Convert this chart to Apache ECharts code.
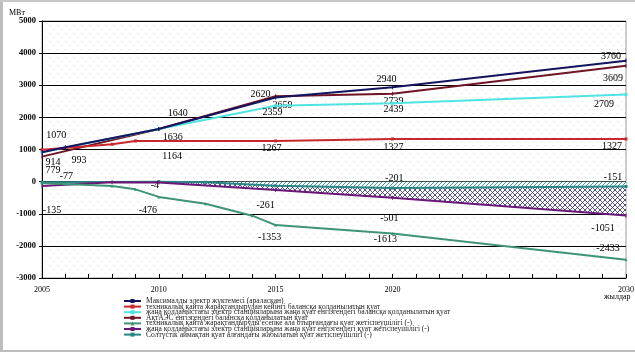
<!DOCTYPE html>
<html><head><meta charset="utf-8">
<script src="https://cdn.jsdelivr.net/npm/echarts@6/dist/echarts.min.js"></script>
<style>html,body{margin:0;padding:0;background:#fff}#c{width:635px;height:358px}</style>
</head><body><div id="c"></div><script>
// ---- data ----
const yearTickLabels = [2005, 2010, 2015, 2020, 2030];
const yTicks = [-3000, -2000, -1000, 0, 1000, 2000, 3000, 4000, 5000];
const seriesNames = [
  'Максималды электр жүктемесі (араласқан)',
  'техникалық қайта жарақтандырудан кейінгі балансқа қолданылатын қуат',
  'жаңа қолданыстағы электр станцияларына жаңа қуат енгізгендегі балансқа қолданылатын қуат',
  'АқтАЭС енгізгендегі балансқа қолданылатын қуат',
  'техникалық қайта жарақтандыруды есепке ала отырғандағы қуат жетіспеушілігі (-)',
  'жаңа қолданыстағы электр станцияларына жаңа қуат енгізгендегі қуат жетіспеушілігі (-)',
  'Солтүстік аймақтан қуат алғандағы жабылатын қуат жетіспеушілігі (-)'
];
const maxLoad = [[2005, 914], [2006, 1070], [2010, 1640], [2015, 2620], [2020, 2940], [2030, 3760]];
const reequipBalance = [[2005, 993], [2008, 1164], [2009, 1267], [2015, 1267], [2020, 1327], [2030, 1327]];
const newStationsBalance = [[2005, 914], [2010, 1636], [2015, 2359], [2020, 2439], [2030, 2709]];
const aktaesBalance = [[2005, 779], [2010, 1636], [2015, 2659], [2020, 2739], [2030, 3609]];
const reequipDeficit = [[2005, -45], [2006, -77], [2008, -135], [2009, -240], [2010, -476], [2012, -690], [2014, -1060], [2015, -1353], [2020, -1613], [2030, -2433]];
const newStationsDeficit = [[2005, -135], [2008, -20], [2010, -30], [2015, -261], [2020, -501], [2030, -1051]];
const northDeficit = [[2005, -20], [2010, -4], [2012, -20], [2015, -130], [2020, -201], [2030, -151]];

// ---- styles ----
const colors = ['#14145e', '#c8282c', '#4fe3e3', '#6e1424', '#3f9378', '#6a1878', '#2a8585'];
const symbols = [['rect', [1, 4]], ['rect', [3, 3]], ['rect', [3, 3]], ['rect', [1, 4]], ['triangle', [3, 3]], ['rect', [1, 4]], ['rect', [3, 3]]];
// label offsets (pixels) for labelled points: seriesIndex -> {year: [dx, dy]}
const labelOffsets = {
  0: {2006: [-9, -12], 2005: [11, 10], 2010: [19, -16], 2015: [-15, -3], 2020: [-6, -8], 2030: [-15, -4]},
  1: {2005: [37, 11], 2008: [60, 12], 2015: [-4, 7], 2020: [1, 8], 2030: [-14, 7]},
  2: {2015: [-3, 7], 2020: [1, 6], 2030: [-22, 10]},
  3: {2005: [11, 14], 2010: [14, 8], 2015: [7, 9], 2020: [1, 8], 2030: [-13, 13]},
  4: {2006: [1, -8], 2010: [-11, 13], 2015: [-6, 12], 2020: [-7, 6], 2030: [-18, -11]},
  5: {2005: [10, 24], 2015: [-10, 15], 2020: [-3, 21], 2030: [-23, 13]},
  6: {2010: [-4, 4], 2020: [2, -10], 2030: [-13, -9]}
};
const allData = [maxLoad, reequipBalance, newStationsBalance, aktaesBalance, reequipDeficit, newStationsDeficit, northDeficit];

function makePattern(w, h, bg, draw) {
  const c = document.createElement('canvas');
  c.width = w; c.height = h;
  const g = c.getContext('2d');
  if (bg) { g.fillStyle = bg; g.fillRect(0, 0, w, h); }
  draw(g);
  return {image: c, repeat: 'repeat'};
}
const dotPattern = makePattern(8, 8, '#ffffff', g => {
  g.fillStyle = '#d4d4d4'; g.fillRect(1, 1, 1, 1); g.fillStyle = '#e0e0e0'; g.fillRect(5, 5, 1, 1);
});
const crossPattern = makePattern(5, 5, 'rgba(255,255,255,0.5)', g => {
  g.strokeStyle = '#2a2a66'; g.lineWidth = 0.8;
  g.beginPath(); g.moveTo(0, 0); g.lineTo(5, 5); g.moveTo(5, 0); g.lineTo(0, 5);
  g.moveTo(-1, 4); g.lineTo(1, 6); g.moveTo(4, -1); g.lineTo(6, 1);
  g.moveTo(-1, 1); g.lineTo(1, -1); g.moveTo(4, 6); g.lineTo(6, 4); g.stroke();
});
const diagPattern = makePattern(4, 4, '#ffffff', g => {
  g.strokeStyle = '#3a9c9c'; g.lineWidth = 1;
  g.beginPath(); g.moveTo(0, 4); g.lineTo(4, 0); g.moveTo(-1, 1); g.lineTo(1, -1); g.moveTo(3, 5); g.lineTo(5, 3); g.stroke();
});

const serifFont = 'Liberation Serif';
const lineSeries = allData.map((d, i) => ({
  name: seriesNames[i],
  type: 'line',
  z: 3 + (6 - i),
  data: d.map(p => {
    const off = labelOffsets[i][p[0]];
    return off ? {value: p, label: {show: true, offset: off}} : {value: p};
  }),
  symbol: symbols[i][0],
  symbolSize: symbols[i][1],
  showSymbol: true,
  itemStyle: {color: colors[i]},
  lineStyle: {color: colors[i], width: 2},
  label: {
    show: false, position: 'inside', color: '#000', fontFamily: serifFont, fontSize: 10,
    formatter: p => String(p.value[1])
  },
  emphasis: {disabled: true},
  animation: false
}));

const fromYear = 2010;
const areaSeries = [
  {
    type: 'line', name: 'hatchCross', z: 1, silent: true, symbol: 'none',
    data: newStationsDeficit.filter(p => p[0] >= fromYear),
    lineStyle: {width: 0}, areaStyle: {color: crossPattern, opacity: 1}, animation: false
  },
  {
    type: 'line', name: 'hatchDiag', z: 2, silent: true, symbol: 'none',
    data: northDeficit.filter(p => p[0] >= fromYear),
    lineStyle: {width: 0}, areaStyle: {color: diagPattern, opacity: 1}, animation: false
  }
];

const chart = echarts.init(document.getElementById('c'), null, {renderer: 'canvas'});
chart.setOption({
  animation: false,
  backgroundColor: '#ffffff',
  grid: {
    left: 42, right: 9, top: 21, bottom: 80, containLabel: false, outerBoundsMode: 'none',
    show: true, backgroundColor: dotPattern, borderColor: '#9a9a9a', borderWidth: 1
  },
  legend: {
    data: seriesNames,
    orient: 'vertical', left: 118, top: 292, height: 120,
    itemWidth: 17, itemHeight: 5, itemGap: -2.4,
    textStyle: {fontFamily: serifFont, fontSize: 7.5, color: '#222'},
    selectedMode: false
  },
  xAxis: {
    type: 'value', min: 2005, max: 2030, interval: 1,
    axisLine: {show: true, onZero: false, lineStyle: {color: '#000', width: 1}},
    axisTick: {show: true, inside: true, length: 4, lineStyle: {color: '#000'}},
    axisLabel: {
      color: '#000', fontFamily: serifFont, fontSize: 8, margin: 8,
      showMinLabel: true, showMaxLabel: true,
      formatter: v => yearTickLabels.includes(v) ? String(v) : ''
    },
    splitLine: {show: false}
  },
  yAxis: {
    type: 'value', min: yTicks[0], max: yTicks[yTicks.length - 1], interval: 1000,
    axisLine: {show: true, onZero: false, lineStyle: {color: '#000', width: 1}},
    axisTick: {show: true, length: 3, lineStyle: {color: '#000'}},
    axisLabel: {color: '#000', fontFamily: serifFont, fontSize: 8.5, fontWeight: 'bold', margin: 6,
      formatter: v => String(v)},
    splitLine: {show: true, lineStyle: {color: '#000', width: 1}}
  },
  graphic: [
    {type: 'rect', left: 0, top: 0, shape: {width: 3, height: 352}, style: {fill: '#bdbdbd'}, silent: true},
    {type: 'rect', left: 0, top: 0, shape: {width: 635, height: 2}, style: {fill: '#c8c8c8'}, silent: true},
    {type: 'rect', left: 0, top: 350, shape: {width: 635, height: 2}, style: {fill: '#bdbdbd'}, silent: true},
    {type: 'text', left: 9, top: 9, style: {text: 'МВт', fontFamily: serifFont, fontSize: 8, fill: '#000'}, silent: true},
    {type: 'text', left: 604, top: 293, style: {text: 'жылдар', fontFamily: serifFont, fontSize: 8, fill: '#000'}, silent: true}
  ],
  series: areaSeries.concat(lineSeries)
});
</script></body></html>
